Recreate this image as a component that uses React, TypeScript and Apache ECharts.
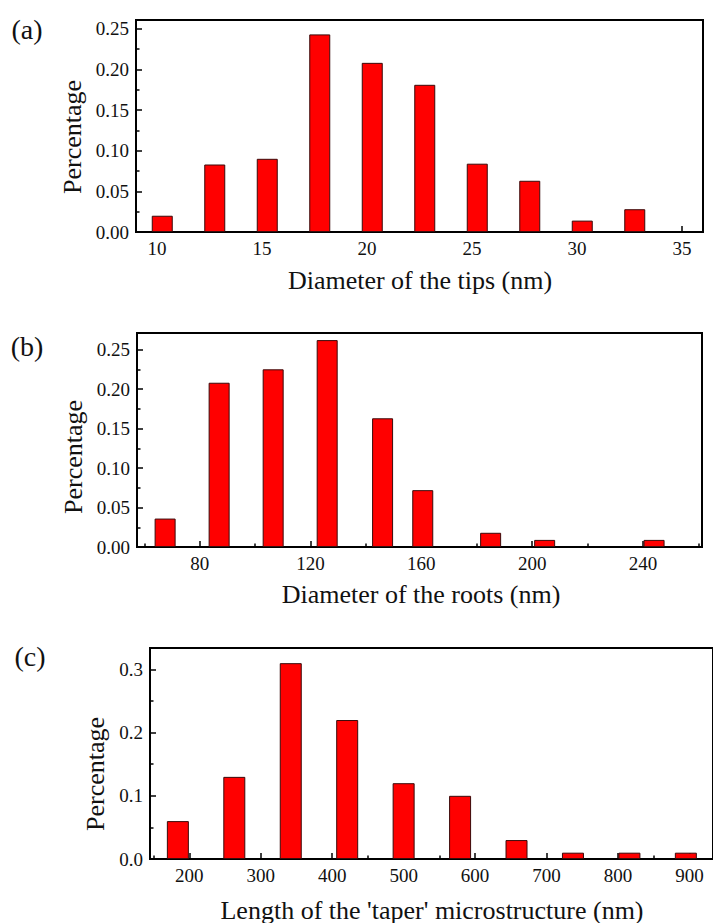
import React, { useEffect, useRef } from "react";
import * as echarts from "echarts";

// Panel (a): diameter of the tips
const tipsX = [10.25, 12.75, 15.25, 17.75, 20.25, 22.75, 25.25, 27.75, 30.25, 32.75];
const tipsY = [0.020, 0.083, 0.090, 0.243, 0.208, 0.181, 0.084, 0.063, 0.014, 0.028];
const tipsXMajor = [10, 15, 20, 25, 30, 35];
const tipsXMinor = [12.5, 17.5, 22.5, 27.5, 32.5];
const tipsYMajor = [0, 0.05, 0.1, 0.15, 0.2, 0.25];
const tipsYMinor = [0.025, 0.075, 0.125, 0.175, 0.225];

// Panel (b): diameter of the roots
const rootsX = [67.5, 87, 106.5, 126, 146, 160.5, 185, 204.5, 244];
const rootsY = [0.036, 0.208, 0.225, 0.262, 0.163, 0.072, 0.018, 0.009, 0.009];
const rootsXMajor = [80, 120, 160, 200, 240];
const rootsXMinor = [60, 100, 140, 180, 220, 260];
const rootsYMajor = [0, 0.05, 0.1, 0.15, 0.2, 0.25];
const rootsYMinor = [0.025, 0.075, 0.125, 0.175, 0.225];

// Panel (c): length of the taper microstructure
const taperX = [184, 263, 342, 421, 500, 579, 658, 737, 816, 895];
const taperY = [0.06, 0.13, 0.31, 0.22, 0.12, 0.10, 0.03, 0.01, 0.01, 0.01];
const taperXMajor = [200, 300, 400, 500, 600, 700, 800, 900];
const taperXMinor = [150, 250, 350, 450, 550, 650, 750, 850];
const taperYMajor = [0, 0.1, 0.2, 0.3];
const taperYMinor = [0.05, 0.15, 0.25];

const panelLabels = ["(a)", "(b)", "(c)"];
const yTitle = "Percentage";
const xTitles = [
  "Diameter of the tips (nm)",
  "Diameter of the roots (nm)",
  "Length of the 'taper' microstructure (nm)",
];

const FONT = '"Liberation Serif", "Times New Roman", serif';

type Panel = {
  grid: { left: number; top: number; width: number; height: number };
  xMin: number; xMax: number; yMax: number;
  xs: number[]; ys: number[];
  xMajor: number[]; xMinor: number[];
  yMajor: number[]; yMinor: number[];
  yDec: number; barWidth: number;
  label: { x: number; y: number };
  yTitlePos: { x: number; y: number };
  xTitlePos: { x: number; y: number };
};

const panels: Panel[] = [
  {
    grid: { left: 136, top: 20, width: 567, height: 212 },
    xMin: 9, xMax: 36, yMax: 0.2607,
    xs: tipsX, ys: tipsY, xMajor: tipsXMajor, xMinor: tipsXMinor,
    yMajor: tipsYMajor, yMinor: tipsYMinor, yDec: 2, barWidth: 21,
    label: { x: 27, y: 29 }, yTitlePos: { x: 72, y: 137 }, xTitlePos: { x: 420, y: 280 },
  },
  {
    grid: { left: 137, top: 333, width: 565, height: 214 },
    xMin: 57.35, xMax: 261.3, yMax: 0.271,
    xs: rootsX, ys: rootsY, xMajor: rootsXMajor, xMinor: rootsXMinor,
    yMajor: rootsYMajor, yMinor: rootsYMinor, yDec: 2, barWidth: 21,
    label: { x: 27, y: 346 }, yTitlePos: { x: 73, y: 457 }, xTitlePos: { x: 421, y: 594 },
  },
  {
    grid: { left: 150, top: 648, width: 564, height: 211 },
    xMin: 145, xMax: 933, yMax: 0.334,
    xs: taperX, ys: taperY, xMajor: taperXMajor, xMinor: taperXMinor,
    yMajor: taperYMajor, yMinor: taperYMinor, yDec: 1, barWidth: 22,
    label: { x: 30, y: 656 }, yTitlePos: { x: 95, y: 774 }, xTitlePos: { x: 432, y: 910 },
  },
];

export default function App() {
  const ref = useRef<HTMLDivElement>(null);
  useEffect(() => {
    if (!ref.current) return;
    const chart = echarts.init(ref.current, undefined, { renderer: "svg" });
    const grids: any[] = [];
    const xAxes: any[] = [];
    const yAxes: any[] = [];
    const series: any[] = [];
    const graphics: any[] = [];
    panels.forEach((p, i) => {
      grids.push({
        ...p.grid,
        show: true,
        borderColor: "#000",
        borderWidth: 2,
        backgroundColor: "transparent",
      });
      xAxes.push({
        type: "value", gridIndex: i, min: p.xMin, max: p.xMax, position: "bottom",
        axisLine: { show: true, onZero: false, lineStyle: { color: "#000", width: 2 } },
        axisTick: { show: true, inside: true, length: 6, lineStyle: { color: "#000", width: 1.5 }, customValues: p.xMajor },
        axisLabel: { customValues: p.xMajor, formatter: (v: number) => String(v), fontFamily: FONT, fontSize: 19, color: "#111", margin: 7 },
        splitLine: { show: false },
      });
      xAxes.push({
        type: "value", gridIndex: i, min: p.xMin, max: p.xMax, position: "bottom",
        axisLine: { show: false, onZero: false },
        axisTick: { show: true, inside: true, length: 3.5, lineStyle: { color: "#000", width: 1.5 }, customValues: p.xMinor },
        axisLabel: { show: false },
        splitLine: { show: false },
      });
      yAxes.push({
        type: "value", gridIndex: i, min: 0, max: p.yMax, position: "left",
        axisLine: { show: true, onZero: false, lineStyle: { color: "#000", width: 2 } },
        axisTick: { show: true, inside: true, length: 6, lineStyle: { color: "#000", width: 1.5 }, customValues: p.yMajor },
        axisLabel: { customValues: p.yMajor, formatter: (v: number) => v.toFixed(p.yDec), fontFamily: FONT, fontSize: 19, color: "#111", margin: 7 },
        splitLine: { show: false },
      });
      yAxes.push({
        type: "value", gridIndex: i, min: 0, max: p.yMax, position: "left",
        axisLine: { show: false, onZero: false },
        axisTick: { show: true, inside: true, length: 3.5, lineStyle: { color: "#000", width: 1.5 }, customValues: p.yMinor },
        axisLabel: { show: false },
        splitLine: { show: false },
      });
      series.push({
        type: "bar",
        xAxisIndex: 2 * i,
        yAxisIndex: 2 * i,
        barWidth: p.barWidth,
        data: p.xs.map((x, k) => [x, p.ys[k]]),
        itemStyle: { color: "#ff0000", borderColor: "#3a0a0a", borderWidth: 1 },
        z: 1,
      });
      graphics.push({
        type: "text", x: p.label.x, y: p.label.y,
        style: { text: panelLabels[i], font: `28px ${FONT}`, fill: "#111", textAlign: "center", textVerticalAlign: "middle" },
      });
      graphics.push({
        type: "text", x: p.yTitlePos.x, y: p.yTitlePos.y, rotation: Math.PI / 2,
        style: { text: yTitle, font: `26px ${FONT}`, fill: "#111", textAlign: "center", textVerticalAlign: "middle" },
      });
      graphics.push({
        type: "text", x: p.xTitlePos.x, y: p.xTitlePos.y,
        style: { text: xTitles[i], font: `26px ${FONT}`, fill: "#111", textAlign: "center", textVerticalAlign: "middle" },
      });
    });
    chart.setOption({
      animation: false,
      backgroundColor: "#fff",
      grid: grids,
      xAxis: xAxes,
      yAxis: yAxes,
      series,
      graphic: graphics,
    });
    return () => chart.dispose();
  }, []);
  return (
    <div
      ref={ref}
      style={{ position: "absolute", left: 0, top: 0, width: 713, height: 923 }}
    />
  );
}
